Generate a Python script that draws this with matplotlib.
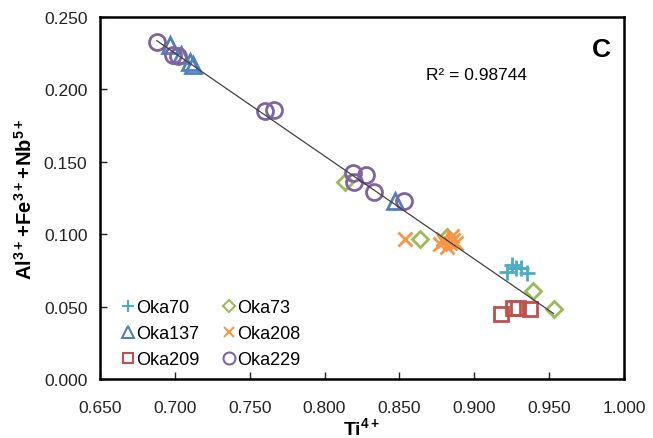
import numpy as np
import matplotlib
matplotlib.use('Agg')
import matplotlib.pyplot as plt
from matplotlib.ticker import FormatStrFormatter, MultipleLocator

plt.rcParams['font.family'] = ['Liberation Sans', 'DejaVu Sans']
plt.rcParams['mathtext.fontset'] = 'custom'
plt.rcParams['mathtext.rm'] = 'Liberation Sans'
plt.rcParams['mathtext.bf'] = 'Liberation Sans:bold'

# Ti4+ (x) and Al3+ + Fe3+ + Nb5+ (y) for each sample
oka70_x = [0.922, 0.925, 0.928, 0.931, 0.935]
oka70_y = [0.074, 0.079, 0.077, 0.077, 0.073]

oka137_x = [0.697, 0.704, 0.710, 0.712, 0.847]
oka137_y = [0.231, 0.224, 0.219, 0.217, 0.123]

oka209_x = [0.918, 0.926, 0.929, 0.937]
oka209_y = [0.045, 0.049, 0.049, 0.048]

oka73_x = [0.814, 0.864, 0.882, 0.939, 0.953]
oka73_y = [0.136, 0.097, 0.098, 0.061, 0.048]

oka208_x = [0.854, 0.877, 0.879, 0.880, 0.882, 0.884, 0.885, 0.886, 0.888]
oka208_y = [0.097, 0.093, 0.097, 0.095, 0.091, 0.094, 0.099, 0.096, 0.094]

oka229_x = [0.688, 0.699, 0.702, 0.760, 0.766, 0.819, 0.828, 0.820, 0.833, 0.853]
oka229_y = [0.233, 0.224, 0.223, 0.185, 0.186, 0.142, 0.141, 0.136, 0.129, 0.123]

r2_text = 'R\u00b2 = 0.98744'

fig = plt.figure(figsize=(6.53, 4.39), dpi=100)
ax = fig.add_axes([0.153, 0.1344, 0.8026, 0.8246])

# (label, x, y, marker, colour, size) in legend row order
series = [
    ('Oka70', oka70_x, oka70_y, '+', '#4BACC6', 12),
    ('Oka137', oka137_x, oka137_y, '^', '#4F81BD', 11.5),
    ('Oka209', oka209_x, oka209_y, 's', '#C0504D', 9.5),
    ('Oka73', oka73_x, oka73_y, 'D', '#9BBB59', 8),
    ('Oka208', oka208_x, oka208_y, 'x', '#F79646', 10),
    ('Oka229', oka229_x, oka229_y, 'o', '#8064A2', 11.5),
]

handles = []
for label, xs, ys, marker, color, size in series:
    h, = ax.plot(xs, ys, linestyle='none', marker=marker, markersize=size,
                 markerfacecolor='none', markeredgecolor=color,
                 markeredgewidth=2, label=label, zorder=3)
    handles.append(h)

# linear trend line through all points
all_x = np.concatenate([s[1] for s in series])
all_y = np.concatenate([s[2] for s in series])
slope, intercept = np.polyfit(all_x, all_y, 1)
line_x = np.array([all_x.min(), all_x.max()])
ax.plot(line_x, slope * line_x + intercept, color='#404040', lw=0.9, zorder=4)

ax.set_xlim(0.65, 1.0)
ax.set_ylim(0.0, 0.25)
ax.xaxis.set_major_locator(MultipleLocator(0.05))
ax.yaxis.set_major_locator(MultipleLocator(0.05))
ax.xaxis.set_major_formatter(FormatStrFormatter('%.3f'))
ax.yaxis.set_major_formatter(FormatStrFormatter('%.3f'))
ax.tick_params(direction='in', length=5, width=1, labelsize=12.5, colors='#222222')
ax.tick_params(axis='x', pad=15)
ax.tick_params(axis='y', pad=9)
for sp in ax.spines.values():
    sp.set_linewidth(1.8)

ax.set_xlabel(r'$\mathbf{Ti^{4+}}$', fontsize=14, labelpad=1)
ax.set_ylabel(r'$\mathbf{Al^{3+}\!+\!Fe^{3+}\!+\!Nb^{5+}}$', fontsize=14.5, labelpad=6)

ax.text(0.868, 0.2106, r2_text, fontsize=12.5, va='center', ha='left')
ax.text(0.956, 0.912, 'C', transform=ax.transAxes, fontsize=19,
        fontweight='bold', ha='center', va='center')

leg = ax.legend(handles=handles, ncol=2, loc='lower left', bbox_to_anchor=(0.02, 0.0),
                frameon=False, fontsize=13, handlelength=0.7, handletextpad=0.1,
                columnspacing=1.3, labelspacing=0.5, borderaxespad=0.2, markerscale=0.75)
for h in leg.legend_handles:
    h.set_markeredgewidth(1.5)

fig.savefig('out.png', dpi=100)
